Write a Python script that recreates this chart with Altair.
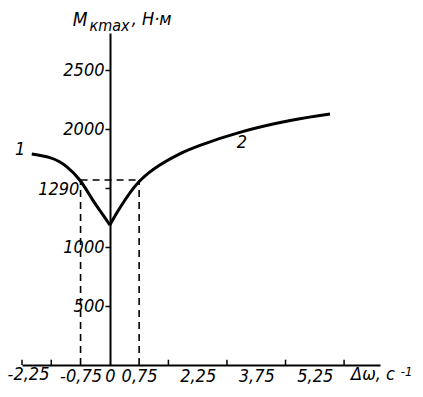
import altair as alt
import pandas as pd

# ---- data ----
curve1_x = [-2.0, -1.54, -1.30, -1.10, -0.77, -0.44, -0.18, 0.0]
curve1_y = [1788, 1758, 1725, 1680, 1568, 1400, 1275, 1186]
curve2_x = [0.0, 0.18, 0.44, 0.79, 1.28, 1.79, 2.31, 3.33, 4.62, 5.64]
curve2_y = [1186, 1290, 1424, 1568, 1695, 1790, 1862, 1972, 2072, 2127]
x_label_values = [-2.25, -0.75, 0, 0.75, 2.25, 3.75, 5.25]
x_minor_ticks = [-2.25, -1.5, 1.5, 3.0, 4.5, 6.0]
y_tick_values = [500, 1000, 1500, 2000, 2500]
level_x = [-0.75, 0.75]
level_y = 1568
level_label = "1290"

FONT = "DejaVu Sans Condensed"
XDOM = [-2.25, 6.92]
YDOM = [0, 2814]

xs = alt.Scale(domain=XDOM, nice=False, zero=False)
ys = alt.Scale(domain=YDOM, nice=False, zero=False)

c1 = pd.DataFrame({"x": curve1_x, "y": curve1_y})
c2 = pd.DataFrame({"x": curve2_x, "y": curve2_y})

x_axis = alt.Axis(
    values=x_label_values,
    labelExpr="datum.value == -2.25 ? '' : replace(toString(datum.value), '.', ',')",
    ticks=False, grid=False, title=None,
    domainColor="black", domainWidth=2,
    labelFont=FONT, labelFontStyle="italic", labelFontSize=18,
    labelColor="black", labelPadding=2, labelFlush=False,
)
y_axis = alt.Axis(
    values=y_tick_values,
    labelExpr="datum.value == 1500 ? '' : toString(datum.value)",
    grid=False, title=None, offset=-88,
    domainColor="black", domainWidth=2,
    tickColor="black", tickWidth=1.5, tickSize=5,
    labelFont=FONT, labelFontStyle="italic", labelFontSize=18,
    labelColor="black", labelPadding=1,
)

base1 = alt.Chart(c1).mark_line(color="black", strokeWidth=3, interpolate="natural").encode(
    x=alt.X("x:Q", scale=xs, axis=x_axis),
    y=alt.Y("y:Q", scale=ys, axis=y_axis),
)
base2 = alt.Chart(c2).mark_line(color="black", strokeWidth=3, interpolate="natural").encode(
    x=alt.X("x:Q"), y=alt.Y("y:Q"),
)

dash_v = alt.Chart(pd.DataFrame({"x": level_x, "y": [0, 0], "y2": [level_y, level_y]})).mark_rule(
    color="black", strokeWidth=1.6, strokeDash=[7, 5]
).encode(x="x:Q", y="y:Q", y2="y2:Q")
dash_h = alt.Chart(pd.DataFrame({"x": [level_x[0]], "x2": [level_x[1]], "y": [level_y]})).mark_rule(
    color="black", strokeWidth=1.6, strokeDash=[7, 5]
).encode(x="x:Q", x2="x2:Q", y="y:Q")

ticks = alt.Chart(pd.DataFrame({"x": x_minor_ticks, "y": [0] * len(x_minor_ticks),
                                "y2": [45] * len(x_minor_ticks)})).mark_rule(
    color="black", strokeWidth=1.5
).encode(x="x:Q", y="y:Q", y2="y2:Q")

def txt(df, size=18, align="left", baseline="middle"):
    return alt.Chart(df).mark_text(
        font=FONT, fontStyle="italic", fontSize=size, color="black",
        align=align, baseline=baseline
    ).encode(x="x:Q", y="y:Q", text="t:N")

texts = [
    txt(pd.DataFrame({"x": [-2.62], "y": [-88], "t": ["-2,25"]}), align="left"),
    txt(pd.DataFrame({"x": [-0.78], "y": [1483], "t": [level_label]}), align="right"),
    txt(pd.DataFrame({"x": [-2.3], "y": [1822], "t": ["1"]}), align="center"),
    txt(pd.DataFrame({"x": [3.38], "y": [1885], "t": ["2"]}), align="center"),
    txt(pd.DataFrame({"x": [-0.95], "y": [2924], "t": ["M"]}), size=19),
    txt(pd.DataFrame({"x": [-0.52], "y": [2870], "t": ["кmax"]}), size=16),
    txt(pd.DataFrame({"x": [0.56], "y": [2924], "t": [", Н·м"]}), size=18),
    txt(pd.DataFrame({"x": [6.18], "y": [-88], "t": ["Δω, с"]}), size=18),
    txt(pd.DataFrame({"x": [7.45], "y": [-62], "t": ["-1"]}), size=13),
]

chart = alt.layer(base1, base2, dash_v, dash_h, ticks, *texts).properties(
    width=358, height=332,
    autosize=alt.AutoSizeParams(type="none"),
    padding={"left": 14, "top": 25, "right": 35, "bottom": 24},
    background="white",
).configure_view(stroke=None)

chart.save("out.html", embed_options={"renderer": "svg", "actions": False})
